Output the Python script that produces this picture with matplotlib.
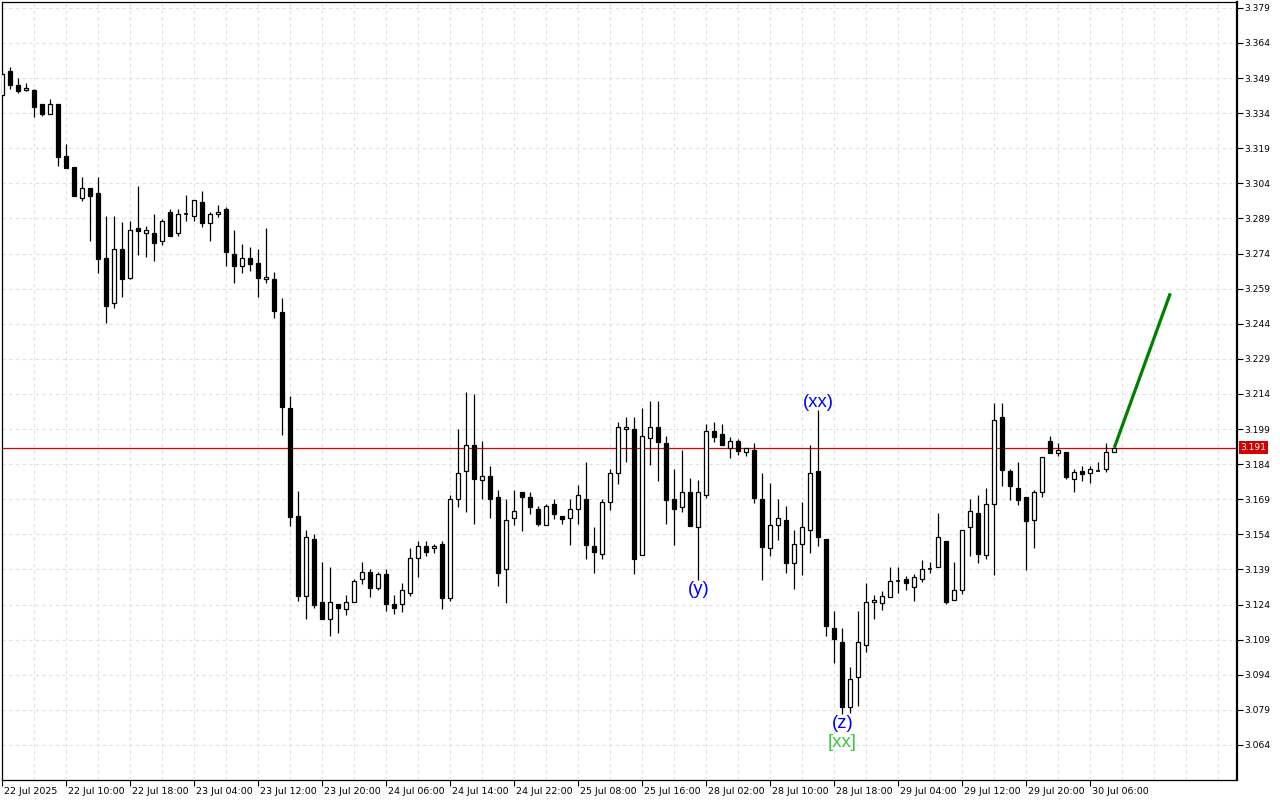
import numpy as np
import matplotlib
matplotlib.use("Agg")
import matplotlib.pyplot as plt
from matplotlib.patches import Rectangle
from matplotlib.transforms import blended_transform_factory, ScaledTranslation

# H1 bars (oldest first)
opens = [3.3418, 3.3521, 3.3461, 3.3438, 3.3439, 3.3380, 3.3335, 3.3380, 3.3157, 3.3110,
         3.2976, 3.3020, 3.2999, 3.2721, 3.2528, 3.2760, 3.2637, 3.2850, 3.2827, 3.2828,
         3.2795, 3.2918, 3.2827, 3.2910, 3.2900, 3.2960, 3.2870, 3.2908, 3.2930, 3.2737,
         3.2688, 3.2720, 3.2700, 3.2630, 3.2630, 3.2490, 3.2080, 3.1619, 3.1278, 3.1520,
         3.1250, 3.1180, 3.1241, 3.1220, 3.1250, 3.1348, 3.1378, 3.1310, 3.1371, 3.1243,
         3.1241, 3.1288, 3.1438, 3.1490, 3.1480, 3.1499, 3.1269, 3.1690, 3.1810, 3.1921,
         3.1771, 3.1788, 3.1700, 3.1390, 3.1610, 3.1721, 3.1700, 3.1647, 3.1579, 3.1669,
         3.1619, 3.1609, 3.1647, 3.1691, 3.1490, 3.1458, 3.1677, 3.1801, 3.1989, 3.1990,
         3.1450, 3.1951, 3.1998, 3.1931, 3.1691, 3.1658, 3.1720, 3.1570, 3.1707, 3.1981,
         3.1970, 3.1908, 3.1938, 3.1891, 3.1900, 3.1691, 3.1480, 3.1579, 3.1600, 3.1419,
         3.1498, 3.1558, 3.1811, 3.1519, 3.1139, 3.1079, 3.0801, 3.0930, 3.1069, 3.1250,
         3.1248, 3.1271, 3.1340, 3.1348, 3.1316, 3.1348, 3.1390, 3.1400, 3.1510, 3.1258,
         3.1301, 3.1570, 3.1630, 3.1450, 3.1669, 3.2040, 3.1811, 3.1738, 3.1700, 3.1600,
         3.1720, 3.1938, 3.1889, 3.1891, 3.1778, 3.1811, 3.1801, 3.1810, 3.1818, 3.1891]
highs = [3.3525, 3.3539, 3.3489, 3.3469, 3.3442, 3.3380, 3.3400, 3.3380, 3.3209, 3.3110,
         3.3069, 3.3020, 3.3069, 3.2902, 3.2902, 3.2873, 3.2880, 3.3030, 3.2858, 3.2909,
         3.2888, 3.2931, 3.2931, 3.2992, 3.2968, 3.3008, 3.2917, 3.2948, 3.2940, 3.2840,
         3.2781, 3.2767, 3.2759, 3.2848, 3.2661, 3.2549, 3.2132, 3.1723, 3.1559, 3.1542,
         3.1423, 3.1399, 3.1241, 3.1280, 3.1348, 3.1423, 3.1392, 3.1379, 3.1392, 3.1280,
         3.1331, 3.1480, 3.1510, 3.1510, 3.1499, 3.1512, 3.1708, 3.1990, 3.2148, 3.2140,
         3.1939, 3.1832, 3.1730, 3.1693, 3.1730, 3.1721, 3.1721, 3.1660, 3.1669, 3.1691,
         3.1619, 3.1691, 3.1751, 3.1851, 3.1573, 3.1691, 3.1818, 3.2020, 3.2040, 3.2040,
         3.2079, 3.2109, 3.2109, 3.1959, 3.1818, 3.1901, 3.1780, 3.1772, 3.2012, 3.2019,
         3.2012, 3.1958, 3.1948, 3.1908, 3.1929, 3.1801, 3.1758, 3.1690, 3.1660, 3.1559,
         3.1677, 3.1922, 3.2072, 3.1519, 3.1213, 3.1139, 3.0973, 3.1213, 3.1332, 3.1282,
         3.1298, 3.1399, 3.1399, 3.1362, 3.1369, 3.1431, 3.1420, 3.1630, 3.1510, 3.1420,
         3.1558, 3.1691, 3.1707, 3.1737, 3.2100, 3.2100, 3.1819, 3.1849, 3.1700, 3.1730,
         3.1870, 3.1962, 3.1931, 3.1891, 3.1819, 3.1832, 3.1834, 3.1849, 3.1931, 3.1911]
lows = [3.3410, 3.3445, 3.3428, 3.3436, 3.3325, 3.3329, 3.3335, 3.3114, 3.3107, 3.2988,
        3.2966, 3.2794, 3.2658, 3.2445, 3.2506, 3.2556, 3.2630, 3.2734, 3.2727, 3.2706,
        3.2778, 3.2817, 3.2817, 3.2877, 3.2877, 3.2855, 3.2795, 3.2898, 3.2687, 3.2616,
        3.2658, 3.2667, 3.2556, 3.2616, 3.2466, 3.1965, 3.1576, 3.1255, 3.1178, 3.1227,
        3.1180, 3.1106, 3.1120, 3.1196, 3.1250, 3.1329, 3.1271, 3.1300, 3.1213, 3.1199,
        3.1210, 3.1278, 3.1359, 3.1449, 3.1459, 3.1220, 3.1257, 3.1658, 3.1637, 3.1586,
        3.1690, 3.1609, 3.1317, 3.1248, 3.1578, 3.1556, 3.1628, 3.1577, 3.1579, 3.1607,
        3.1586, 3.1496, 3.1586, 3.1435, 3.1376, 3.1436, 3.1646, 3.1757, 3.1847, 3.1369,
        3.1450, 3.1838, 3.1769, 3.1586, 3.1496, 3.1637, 3.1577, 3.1345, 3.1697, 3.1936,
        3.1921, 3.1868, 3.1878, 3.1876, 3.1675, 3.1345, 3.1449, 3.1517, 3.1376, 3.1307,
        3.1367, 3.1459, 3.1488, 3.1107, 3.0989, 3.0771, 3.0778, 3.0808, 3.1039, 3.1180,
        3.1217, 3.1271, 3.1291, 3.1301, 3.1257, 3.1337, 3.1376, 3.1400, 3.1241, 3.1258,
        3.1287, 3.1449, 3.1419, 3.1436, 3.1368, 3.1747, 3.1688, 3.1667, 3.1389, 3.1480,
        3.1699, 3.1889, 3.1876, 3.1778, 3.1720, 3.1769, 3.1758, 3.1810, 3.1808, 3.1891]
closes = [3.3507, 3.3459, 3.3436, 3.3447, 3.3368, 3.3335, 3.3380, 3.3154, 3.3107, 3.2988,
          3.3020, 3.2988, 3.2717, 3.2517, 3.2759, 3.2630, 3.2841, 3.2838, 3.2841, 3.2787,
          3.2880, 3.2817, 3.2909, 3.2909, 3.2968, 3.2870, 3.2910, 3.2918, 3.2748, 3.2688,
          3.2720, 3.2697, 3.2637, 3.2639, 3.2496, 3.2086, 3.1616, 3.1277, 3.1528, 3.1238,
          3.1180, 3.1250, 3.1227, 3.1251, 3.1341, 3.1378, 3.1310, 3.1369, 3.1241, 3.1227,
          3.1301, 3.1438, 3.1489, 3.1466, 3.1489, 3.1269, 3.1690, 3.1801, 3.1921, 3.1778,
          3.1788, 3.1690, 3.1376, 3.1600, 3.1640, 3.1699, 3.1658, 3.1586, 3.1660, 3.1628,
          3.1607, 3.1647, 3.1707, 3.1496, 3.1466, 3.1677, 3.1801, 3.1998, 3.1998, 3.1436,
          3.1959, 3.1998, 3.1936, 3.1688, 3.1647, 3.1720, 3.1577, 3.1720, 3.1981, 3.1958,
          3.1921, 3.1938, 3.1898, 3.1908, 3.1697, 3.1487, 3.1579, 3.1609, 3.1419, 3.1498,
          3.1570, 3.1802, 3.1528, 3.1150, 3.1092, 3.0800, 3.0920, 3.1079, 3.1250, 3.1258,
          3.1278, 3.1340, 3.1338, 3.1331, 3.1359, 3.1391, 3.1391, 3.1528, 3.1250, 3.1301,
          3.1558, 3.1640, 3.1457, 3.1669, 3.2028, 3.1817, 3.1748, 3.1688, 3.1599, 3.1720,
          3.1870, 3.1889, 3.1899, 3.1787, 3.1808, 3.1799, 3.1818, 3.1811, 3.1891, 3.1910]

time_labels = ["22 Jul 2025", "22 Jul 10:00", "22 Jul 18:00", "23 Jul 04:00", "23 Jul 12:00",
               "23 Jul 20:00", "24 Jul 06:00", "24 Jul 14:00", "24 Jul 22:00", "25 Jul 08:00",
               "25 Jul 16:00", "28 Jul 02:00", "28 Jul 10:00", "28 Jul 18:00", "29 Jul 04:00",
               "29 Jul 12:00", "29 Jul 20:00", "30 Jul 06:00"]
price_ticks = [3.064, 3.079, 3.094, 3.109, 3.124, 3.139, 3.154, 3.169, 3.184, 3.199, 3.214,
               3.229, 3.244, 3.259, 3.274, 3.289, 3.304, 3.319, 3.334, 3.349, 3.364, 3.379]

last_price = 3.191
target_bar = 146
target_price = 3.257

wave_labels = ["(y)", "(xx)", "(z)"]
wave_bars = [87, 102, 105]
wave_at_high = [False, True, False]
degree_label = "[xx]"
degree_bar = 105


def main():
    fig = plt.figure(figsize=(12.8, 8), dpi=100)
    ax = fig.add_axes([2 / 1280, 20 / 800, 1235 / 1280, 778 / 800])

    # candles
    w = 0.26
    for i, (o, h, l, c) in enumerate(zip(opens, highs, lows, closes)):
        ax.vlines(i, l, h, color="black", lw=0.9, zorder=3)
        if abs(c - o) < 0.0004:
            ax.hlines(o, i - w, i + w, color="black", lw=1.2, zorder=4)
            continue
        fc = "white" if c >= o else "black"
        ax.add_patch(Rectangle((i - w, min(o, c)), 2 * w, abs(c - o), facecolor=fc,
                               edgecolor="black", lw=0.9, zorder=4))

    ax.axhline(last_price, color="#e00000", lw=0.9, zorder=2)
    ax.plot([len(closes) - 1, target_bar], [closes[-1], target_price], color="#008000",
            lw=2.3, solid_capstyle="butt", zorder=5)

    lab_font = ["Liberation Sans", "DejaVu Sans"]
    for txt, b, up in zip(wave_labels, wave_bars, wave_at_high):
        ax.annotate(txt, xy=(b, highs[b] if up else lows[b]), xytext=(0, -0.8 if up else -0.5),
                    textcoords="offset points", ha="center", va="bottom" if up else "top",
                    color="#0000ff", fontsize=13.3, family=lab_font, zorder=6)
    ax.annotate(degree_label, xy=(degree_bar, lows[degree_bar]), xytext=(0, -14.2),
                textcoords="offset points", ha="center", va="top", color="#3cc83c",
                fontsize=13.3, family=lab_font, zorder=6)

    # axes / grid
    ax.set_xlim(-0.04, 154.34)
    ax.set_ylim(3.049, 3.3815)
    ax.set_xticks(range(0, 8 * len(time_labels), 8))
    ax.set_xticks(range(0, 156, 4), minor=True)
    ax.set_xticklabels(time_labels, ha="left")
    ax.yaxis.tick_right()
    ax.set_yticks(price_ticks)
    ax.set_yticklabels([f"{p:.3f}" for p in price_ticks])
    ax.grid(True, which="both", axis="x", color="#e0e0e0", ls=(0, (3, 3)), lw=0.8, zorder=0)
    ax.grid(True, which="major", axis="y", color="#e0e0e0", ls=(0, (3, 3)), lw=0.8, zorder=0)
    ax.tick_params(axis="x", which="major", length=4, width=0.8, pad=1, labelsize=6.8)
    ax.tick_params(axis="x", which="minor", length=0)
    ax.tick_params(axis="y", length=4, width=0.8, pad=1.5, labelsize=6.6)
    shift = ScaledTranslation(2 / 100, 0, fig.dpi_scale_trans)
    for lbl in ax.get_xticklabels():
        lbl.set_family(["Liberation Sans Narrow", "DejaVu Sans"])
        lbl.set_transform(lbl.get_transform() + shift)
    for s in ax.spines.values():
        s.set_linewidth(0.9)
    ax.spines["right"].set_linewidth(1.6)

    tr = blended_transform_factory(ax.transAxes, ax.transData)
    ax.text(1.003, last_price, f"{last_price:.3f}", transform=tr, ha="left", va="center",
            color="white", fontsize=6.5, clip_on=False,
            bbox=dict(boxstyle="square,pad=0.2", fc="#d00000", ec="none"))

    fig.savefig("out.png", dpi=100, facecolor="white")
    plt.close(fig)


if __name__ == "__main__":
    main()
